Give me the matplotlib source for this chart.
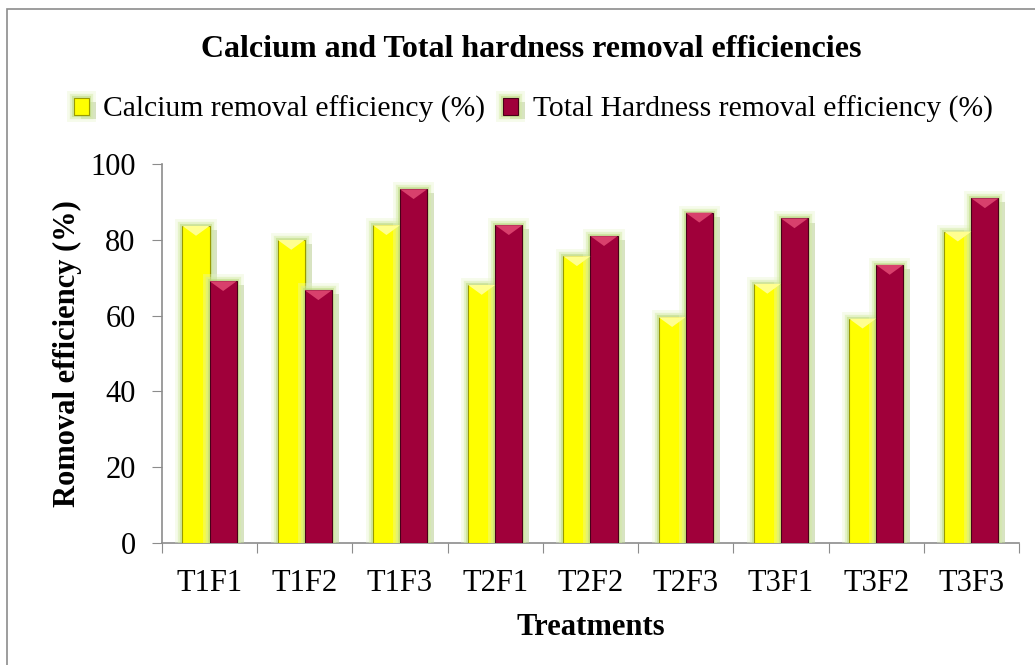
import numpy as np
import matplotlib
matplotlib.use("Agg")
import matplotlib.pyplot as plt
import matplotlib.patheffects as pe
from matplotlib.patches import Rectangle, Polygon

treatments = ["T1F1", "T1F2", "T1F3", "T2F1", "T2F2", "T2F3", "T3F1", "T3F2", "T3F3"]
calcium = [83.7, 80.0, 83.9, 68.1, 75.7, 59.6, 68.4, 59.2, 82.2]
hardness = [69.1, 66.7, 93.4, 83.9, 81.0, 87.2, 85.7, 73.4, 91.0]

plt.rcParams['font.family'] = ['Liberation Serif', 'DejaVu Serif']

fig = plt.figure(figsize=(10.35, 6.65), dpi=100)
ax = fig.add_axes([0.1565, 0.184, 0.828, 0.569])

# grey frame round the whole chart (right edge falls outside the picture)
fig.patches.append(Rectangle((0.007, -0.01), 1.0, 0.997, transform=fig.transFigure,
                             fill=False, edgecolor='#8c8c8c', linewidth=1.2))

x = np.arange(len(treatments))
w = 0.285
# soft glow: a few wide, faint strokes plus a shadow to the right
glow = [pe.SimplePatchShadow(offset=(5, -3), shadow_rgbFace='#7f9a4a', alpha=0.35),
        pe.Stroke(linewidth=10, foreground='#e6f5c8', alpha=0.35),
        pe.Stroke(linewidth=6, foreground='#d2eba0', alpha=0.45),
        pe.Stroke(linewidth=3, foreground='#b8d878', alpha=0.5),
        pe.Normal()]

b1 = ax.bar(x - w / 2, calcium, w, color='#ffff00', edgecolor='#9a9a00', linewidth=0.8,
            label='Calcium removal efficiency (%)', zorder=3)
b2 = ax.bar(x + w / 2, hardness, w, color='#a0003a', edgecolor='#4a0018', linewidth=0.8,
            label='Total Hardness removal efficiency (%)', zorder=3)
for b in list(b1) + list(b2):
    b.set_path_effects(glow)

# bevelled top of each bar (lighter triangle)
bev = 2.6
for bars, light in [(b1, '#ffff90'), (b2, '#d8406c')]:
    for b in bars:
        x0, x1, h = b.get_x(), b.get_x() + b.get_width(), b.get_height()
        ax.add_patch(Polygon([(x0, h), (x1, h), ((x0 + x1) / 2, h - bev)], closed=True,
                             facecolor=light, edgecolor='none', zorder=4))

ax.set_xlim(-0.5, len(treatments) - 0.5)
ax.set_ylim(0, 100)
ax.set_yticks([0, 20, 40, 60, 80, 100])
ax.set_xticks(np.arange(len(treatments) + 1) - 0.5, minor=False)
ax.set_xticklabels([])
ax.set_xticks(x, minor=True)
ax.set_xticklabels(treatments, minor=True)
ax.tick_params(axis='x', which='minor', length=0, labelsize=22, pad=19)
ax.tick_params(axis='x', which='major', length=7, color='#8c8c8c', direction='out')
ax.tick_params(axis='y', length=7, color='#8c8c8c', labelsize=22, direction='out', pad=12)

for s in ['top', 'right']:
    ax.spines[s].set_visible(False)
for s in ['left', 'bottom']:
    ax.spines[s].set_color('#8c8c8c')
    ax.spines[s].set_linewidth(1.2)

ax.set_xlabel('Treatments', fontsize=22, fontweight='bold', labelpad=11)
ax.set_ylabel('Romoval efficiency (%)', fontsize=22, fontweight='bold', labelpad=6)

fig.text(0.513, 0.925, 'Calcium and Total hardness removal efficiencies', ha='center', va='center',
         fontsize=23, fontweight='bold')
fig.legend(handles=[b1, b2], loc='center', bbox_to_anchor=(0.515, 0.835), ncol=2, frameon=False,
           fontsize=21.3, handlelength=0.52, handleheight=0.52, handletextpad=0.48, columnspacing=0.6)

fig.savefig('out.png', dpi=100)
